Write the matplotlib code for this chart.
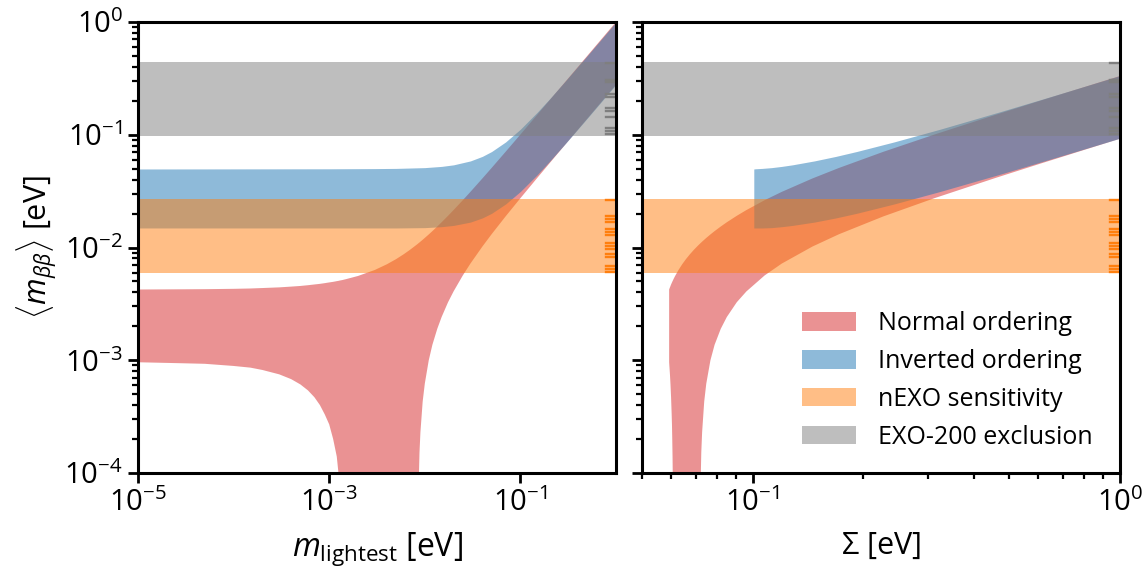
import matplotlib
matplotlib.use("Agg")
import matplotlib.pyplot as plt
from matplotlib.ticker import LogLocator, NullLocator, NullFormatter, FixedLocator
from matplotlib.patches import Patch

plt.rcParams['font.family'] = ['Open Sans', 'DejaVu Sans']
plt.rcParams['mathtext.fontset'] = 'custom'
plt.rcParams['mathtext.rm'] = 'Open Sans'
plt.rcParams['mathtext.it'] = 'Open Sans:italic'
plt.rcParams['mathtext.bf'] = 'Open Sans:bold'
plt.rcParams['mathtext.fallback'] = 'cm'

# ---------------- data ----------------
# Left panel: m_lightest [eV]
m_no = [1e-5, 3e-5, 5e-5, 1e-4, 1.5e-4, 2e-4, 3e-4, 4e-4, 5e-4, 6e-4,
        7e-4, 8e-4, 9e-4, 1e-3, 1.1e-3, 1.2e-3, 1.25e-3, 1.3e-3, 1.35e-3, 1.38e-3,
        1.5e-3, 2e-3, 3e-3, 4e-3, 5e-3, 6e-3, 7e-3, 8e-3, 8.4e-3,
        8.5e-3, 8.6e-3, 8.8e-3, 9e-3, 9.5e-3, 1e-2, 1.1e-2, 1.2e-2, 1.35e-2, 1.5e-2,
        1.75e-2, 2e-2, 2.5e-2, 3e-2, 4e-2, 5e-2, 7e-2, 0.1, 0.15, 0.2,
        0.3, 0.5, 0.7, 1.0]
no_lo = [0.00096, 0.00094, 0.00093, 0.00089, 0.00086, 0.00082, 0.00075, 0.00068, 0.00061, 0.00054,
         0.00047, 0.00040, 0.00033, 0.00027, 0.00020, 0.00014, 0.00010, 0.00007, 0.00003, 1e-6,
         1e-6, 1e-6, 1e-6, 1e-6, 1e-6, 1e-6, 1e-6, 1e-6, 1e-6,
         0.000033, 0.00007, 0.000152, 0.00023, 0.00043, 0.00062, 0.00100, 0.00137, 0.00190, 0.00242,
         0.00327, 0.00408, 0.00566, 0.0072, 0.01019, 0.01312, 0.01887, 0.02737, 0.04141, 0.05538,
         0.08326, 0.1389, 0.1946, 0.2780]
no_hi = [0.00424, 0.00426, 0.00427, 0.00430, 0.00433, 0.00437, 0.00443, 0.00450, 0.00456, 0.00463,
         0.00470, 0.00476, 0.00483, 0.00490, 0.00496, 0.00503, 0.00506, 0.00510, 0.00513, 0.00515,
         0.00524, 0.00559, 0.00632, 0.00709, 0.00788, 0.00870, 0.00954, 0.01040, 0.01074,
         0.01083, 0.01092, 0.01109, 0.01127, 0.01171, 0.01216, 0.01306, 0.01397, 0.01535, 0.01675,
         0.0191, 0.02148, 0.02629, 0.03114, 0.04093, 0.05078, 0.07059, 0.1004, 0.1503, 0.2002,
         0.3002, 0.5001, 0.7001, 1.0]

m_io = [1e-5, 1e-3, 3e-3, 5e-3, 1e-2, 1.5e-2, 2e-2, 3e-2, 4e-2, 5e-2, 7e-2, 0.1, 0.15,
        0.2, 0.3, 0.5, 0.7, 1.0]
io_lo = [0.0149, 0.0149, 0.0149, 0.0149, 0.0150, 0.0153, 0.0157, 0.0168, 0.0183, 0.0201,
         0.0243, 0.0314, 0.0442, 0.0576, 0.0848, 0.1400, 0.1956, 0.2790]
io_hi = [0.0497, 0.0499, 0.0501, 0.0503, 0.0511, 0.0524, 0.0541, 0.0586, 0.0643, 0.0710,
         0.0863, 0.1120, 0.1583, 0.2063, 0.3042, 0.5026, 0.7018, 1.0013]

# Right panel: sum of masses [eV]
sum_no = [0.05927, 0.05936, 0.05957, 0.05978, 0.05999, 0.06022, 0.06033, 0.06044, 0.06055,
          0.06062, 0.06068, 0.06073, 0.06077, 0.06091, 0.06153, 0.06286, 0.0643, 0.06584,
          0.06749, 0.06921, 0.07102, 0.07175, 0.07194, 0.07213, 0.0725, 0.07288, 0.07384,
          0.0748, 0.07678, 0.0788, 0.08191, 0.08509, 0.09056, 0.0962, 0.10789, 0.12005,
          0.14543, 0.17188, 0.2269, 0.31248, 0.45855, 0.60647, 0.90435, 1.0089]
sum_no_lo = [0.00096, 0.00089, 0.00075, 0.00061, 0.00047, 0.00033, 0.00027, 0.00020, 0.00014,
             0.00010, 0.00007, 0.00003, 1e-6, 1e-6, 1e-6, 1e-6, 1e-6, 1e-6,
             1e-6, 1e-6, 1e-6, 1e-6, 0.000033, 0.00007, 0.000152, 0.00023, 0.00043,
             0.00062, 0.00100, 0.00137, 0.00190, 0.00242, 0.00327, 0.00408, 0.00566, 0.0072,
             0.01019, 0.01312, 0.01887, 0.02737, 0.04141, 0.05538, 0.08326, 0.0930]
sum_no_hi = [0.00424, 0.00430, 0.00443, 0.00456, 0.00470, 0.00483, 0.00490, 0.00496, 0.00503,
             0.00506, 0.00510, 0.00513, 0.00515, 0.00524, 0.00559, 0.00632, 0.00709, 0.00788,
             0.00870, 0.00954, 0.01040, 0.01074, 0.01083, 0.01092, 0.01109, 0.01127, 0.01171,
             0.01216, 0.01306, 0.01397, 0.01535, 0.01675, 0.0191, 0.02148, 0.02629, 0.03114,
             0.04093, 0.05078, 0.07059, 0.1004, 0.1503, 0.2002, 0.3002, 0.335]

sum_io = [0.10075, 0.10176, 0.10392, 0.10624, 0.11271, 0.12011, 0.12839, 0.14726, 0.16864,
          0.19195, 0.24247, 0.32394, 0.46646, 0.6125, 0.9084, 1.01255]
sum_io_lo = [0.0149, 0.0149, 0.0149, 0.0149, 0.0150, 0.0153, 0.0157, 0.0168, 0.0183, 0.0201,
             0.0243, 0.0314, 0.0442, 0.0576, 0.0848, 0.0944]
sum_io_hi = [0.0497, 0.0499, 0.0501, 0.0503, 0.0511, 0.0524, 0.0541, 0.0586, 0.0643, 0.0710,
             0.0863, 0.1120, 0.1583, 0.2063, 0.3042, 0.3388]

nexo_band = [0.0059, 0.0268]
exo200_band = [0.098, 0.44]
nexo_marks = [0.02638, 0.01903, 0.01790, 0.01684, 0.01459, 0.01373, 0.01291, 0.01096,
              0.01031, 0.00970, 0.00876, 0.00824, 0.00686, 0.00645, 0.00606]
exo200_marks = [0.4330, 0.3059, 0.2936, 0.2298, 0.2162, 0.1727, 0.1624, 0.1437, 0.1148,
                0.1080, 0.1016]

labels = ['Normal ordering', 'Inverted ordering', 'nEXO sensitivity', 'EXO-200 exclusion']

# ---------------- figure ----------------
fig = plt.figure(figsize=(11.48, 5.69), dpi=100)
axL = fig.add_axes([138/1148, 96/569, 478/1148, 451/569])
axR = fig.add_axes([642/1148, 96/569, 478/1148, 451/569])

A = 0.5
def draw(ax, xn, nlo, nhi, xi, ilo, ihi):
    ax.set_xscale('log')
    ax.set_yscale('log')
    ax.fill_between(xn, nlo, nhi, color='tab:red', alpha=A, lw=0)
    ax.fill_between(xi, ilo, ihi, color='tab:blue', alpha=A, lw=0)
    ax.axhspan(nexo_band[0], nexo_band[1], color='tab:orange', alpha=A, lw=0)
    ax.axhspan(exo200_band[0], exo200_band[1], color='tab:gray', alpha=A, lw=0)
    for v in nexo_marks:
        ax.axhline(v, xmin=0.979, xmax=1.0, color='tab:orange', lw=1.7)
    for v in exo200_marks:
        ax.axhline(v, xmin=0.979, xmax=1.0, color='tab:gray', lw=1.7)
    ax.set_ylim(1e-4, 1)
    for s in ax.spines.values():
        s.set_linewidth(2.2)
    ax.tick_params(axis='both', which='major', length=7, width=2, labelsize=21, direction='out',
                   pad=4)
    ax.tick_params(axis='both', which='minor', length=4, width=1.6, direction='out')
    ax.yaxis.set_major_locator(FixedLocator([1e-4, 1e-3, 1e-2, 1e-1, 1]))
    ax.yaxis.set_minor_locator(LogLocator(base=10, subs=range(2, 10), numticks=20))
    ax.yaxis.set_minor_formatter(NullFormatter())

draw(axL, m_no, no_lo, no_hi, m_io, io_lo, io_hi)
draw(axR, sum_no, sum_no_lo, sum_no_hi, sum_io, sum_io_lo, sum_io_hi)

axL.set_xlim(1e-5, 1.0)
axL.xaxis.set_major_locator(FixedLocator([1e-5, 1e-3, 1e-1]))
axL.xaxis.set_minor_locator(NullLocator())
axL.set_xlabel(r'$m_{\mathrm{lightest}}$ [eV]', fontsize=23, labelpad=9)
axL.set_ylabel(r'$\langle m_{\beta\beta}\rangle$ [eV]', fontsize=22, labelpad=4)

axR.set_xlim(0.05, 1.0)
axR.xaxis.set_major_locator(FixedLocator([0.1, 1.0]))
axR.xaxis.set_minor_locator(LogLocator(base=10, subs=range(2, 10), numticks=20))
axR.xaxis.set_minor_formatter(NullFormatter())
axR.set_yticklabels([])
axR.set_xlabel(r'$\Sigma$ [eV]', fontsize=22, labelpad=9)

handles = [Patch(color='tab:red', alpha=A, lw=0), Patch(color='tab:blue', alpha=A, lw=0),
           Patch(color='tab:orange', alpha=A, lw=0), Patch(color='tab:gray', alpha=A, lw=0)]
axR.legend(handles, labels, loc='lower right', bbox_to_anchor=(0.99, 0.002), frameon=False,
           fontsize=18, handlelength=2.16, handleheight=0.76, handletextpad=0.88,
           labelspacing=0.51)

fig.savefig('out.png', dpi=100)
